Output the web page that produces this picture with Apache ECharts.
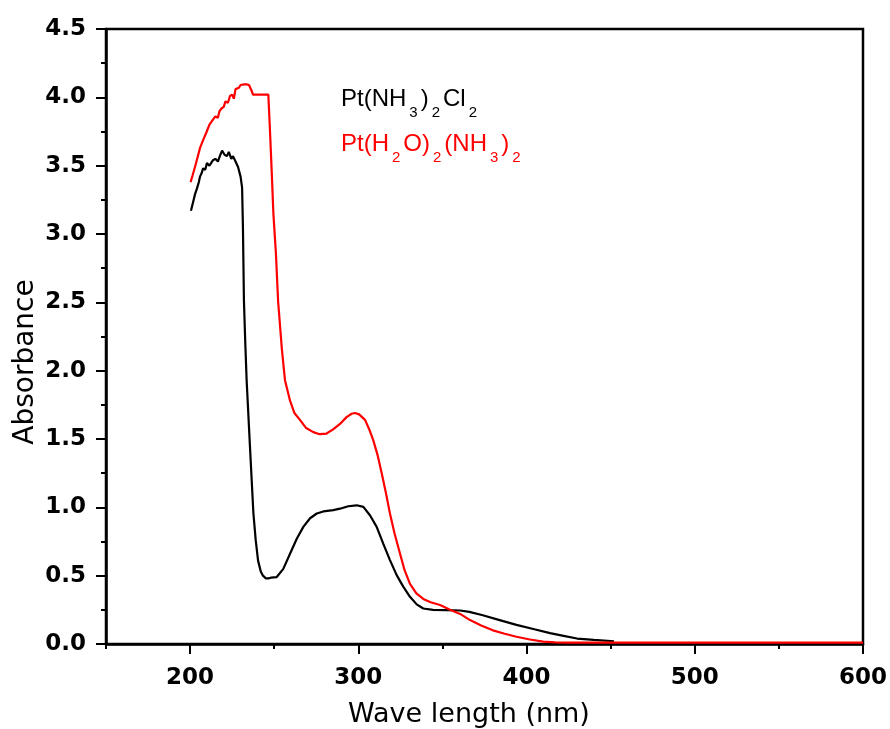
<!DOCTYPE html>
<html>
<head>
<meta charset="utf-8">
<script src="https://cdn.jsdelivr.net/npm/echarts@6/dist/echarts.min.js"></script>
<style>html,body{margin:0;padding:0;background:#fff;}#c{width:890px;height:729px;}</style>
</head>
<body>
<div id="c"></div>
<script>
// Pt(NH3)2Cl2 (black)
var blackWave = [200.5,201.5,202.9,204,205.2,205.9,207,207.7,209,210,211.5,213.6,215,216.5,218,219,220.5,221.9,223,224.5,225.5,227,228.5,230,230.9,231.4,232,232.8,233.6,235.6,237.6,239,240.4,242,243.3,245,246.5,248,251.5,255.4,259.4,263.4,267.3,271.3,275.3,279.2,285.1,289.1,294,299,303,307,310.9,314.8,318.8,322.8,326.7,330.7,334.7,338.6,344.4,352,360.5,366,374,384,394,404,414,422,430,440,452];
var blackAbs  = [3.17,3.22,3.29,3.33,3.38,3.42,3.45,3.48,3.47,3.52,3.50,3.54,3.55,3.53,3.58,3.61,3.58,3.57,3.60,3.55,3.57,3.53,3.49,3.42,3.34,3.05,2.51,2.20,1.93,1.44,0.96,0.76,0.61,0.53,0.50,0.48,0.48,0.485,0.49,0.55,0.66,0.77,0.857,0.92,0.955,0.97,0.98,0.99,1.008,1.015,1.003,0.94,0.857,0.735,0.614,0.504,0.42,0.345,0.29,0.26,0.25,0.248,0.245,0.235,0.21,0.175,0.14,0.11,0.08,0.06,0.04,0.03,0.02];
// Pt(H2O)2(NH3)2 (red)
var redWave = [200.3,201.5,202.9,204.4,205.9,207.5,209.9,211.5,213.8,215,216.5,217.5,218.8,220,221,222.5,223.7,225,226,227,227.7,229,230,232,233.6,235,236,236.5,237.4,240,243,246.5,247.5,248.5,249.5,251,252.3,254.6,256.4,259.4,262,265.3,269,273.2,277,281.1,285,289.1,293,296,298,300.5,304,306.5,308.9,311.5,313.9,316.5,318.8,321.5,324.8,327.5,330.7,334.5,338.6,343,348.6,354.5,360.5,366.4,373,380,387,394,402,409.9,417,424,450,500,550,600];
var redAbs  = [3.38,3.43,3.49,3.56,3.63,3.68,3.75,3.80,3.84,3.86,3.85,3.90,3.92,3.93,3.97,3.96,4.01,4.02,3.99,4.06,4.07,4.07,4.09,4.095,4.095,4.09,4.08,4.05,4.02,4.02,4.02,4.02,3.75,3.46,3.15,2.86,2.51,2.15,1.93,1.78,1.69,1.64,1.58,1.55,1.535,1.54,1.57,1.61,1.66,1.685,1.69,1.68,1.64,1.57,1.49,1.38,1.25,1.10,0.955,0.81,0.66,0.54,0.44,0.37,0.33,0.305,0.285,0.25,0.22,0.175,0.135,0.10,0.075,0.053,0.033,0.017,0.012,0.01,0.01,0.01,0.01,0.01];
var xMajorTicks = [200,300,400,500,600];
var xMinorTicks = [150,250,350,450,550];
var xTitle = 'Wave length (nm)';
var yTitle = 'Absorbance';

function pairs(xs, ys){ var out=[]; for(var i=0;i<xs.length;i++){ out.push([xs[i], ys[i]]); } return out; }

var chart = echarts.init(document.getElementById('c'), null, {renderer:'canvas'});
var axisCol = '#000';
function legendRich(col){
  return {
    a: { fontFamily: 'Liberation Sans', fontSize: 24, lineHeight: 26, fill: col, color: col, verticalAlign: 'top' },
    s: { fontFamily: 'Liberation Sans', fontSize: 15, lineHeight: 15, fill: col, color: col, verticalAlign: 'top', padding: [18,3,0,3] }
  };
}
chart.setOption({
  animation: false,
  backgroundColor: '#fff',
  grid: { left: 106, right: 27, top: 29, bottom: 85, show: true, borderColor: '#000', borderWidth: 2.5, backgroundColor: 'transparent' },
  xAxis: [
    {
      type: 'value', min: 150, max: 600, position: 'bottom',
      axisLine: { show: true, onZero: false, lineStyle: { color: axisCol, width: 2.5 } },
      axisTick: { show: true, inside: false, length: 5, customValues: xMinorTicks, lineStyle: { color: axisCol, width: 2 } },
      axisLabel: { show: true, customValues: xMajorTicks, margin: 23, color: '#000', fontFamily: 'DejaVu Sans', fontWeight: 'bold', fontSize: 23 },
      splitLine: { show: false }
    },
    {
      type: 'value', min: 150, max: 600, position: 'bottom',
      axisLine: { show: false },
      axisTick: { show: true, inside: false, length: 10, customValues: xMajorTicks, lineStyle: { color: axisCol, width: 2 } },
      axisLabel: { show: false },
      splitLine: { show: false }
    }
  ],
  yAxis: {
    type: 'value', min: 0, max: 4.5, interval: 0.5,
    axisLine: { show: true, onZero: false, lineStyle: { color: axisCol, width: 2.5 } },
    axisTick: { show: true, inside: false, length: 10, lineStyle: { color: axisCol, width: 2 } },
    minorTick: { show: true, splitNumber: 2, length: 5, lineStyle: { color: axisCol, width: 2 } },
    axisLabel: { margin: 20, color: '#000', fontFamily: 'DejaVu Sans', fontWeight: 'bold', fontSize: 23, formatter: function(v){ return v.toFixed(1); } },
    splitLine: { show: false }, minorSplitLine: { show: false }
  },
  series: [
    { name: 'Pt(NH3)2Cl2', type: 'line', xAxisIndex: 0, data: pairs(blackWave, blackAbs), showSymbol: false, symbol: 'none', smooth: false, lineStyle: { color: '#000', width: 2.2 }, z: 2 },
    { name: 'Pt(H2O)2(NH3)2', type: 'line', xAxisIndex: 0, data: pairs(redWave, redAbs), showSymbol: false, symbol: 'none', smooth: false, lineStyle: { color: '#ff0000', width: 2.2 }, z: 3 }
  ],
  graphic: [
    { type: 'text', x: 26, y: 362, rotation: Math.PI/2, style: { text: yTitle, fill: '#000', font: '28px "DejaVu Sans"', align: 'center', verticalAlign: 'middle' } },
    { type: 'text', x: 469, y: 715, style: { text: xTitle, fill: '#000', font: '27px "DejaVu Sans"', align: 'center', verticalAlign: 'middle' } },
    { type: 'text', x: 341, y: 87, style: {
        text: '{a|Pt(NH}{s|3}{a|)}{s|2}{a|Cl}{s|2}', align: 'left', verticalAlign: 'top',
        rich: legendRich('#000') } },
    { type: 'text', x: 341, y: 132, style: {
        text: '{a|Pt(H}{s|2}{a|O)}{s|2}{a|(NH}{s|3}{a|)}{s|2}', align: 'left', verticalAlign: 'top',
        rich: legendRich('#ff0000') } }
  ]
});
</script>
</body>
</html>
